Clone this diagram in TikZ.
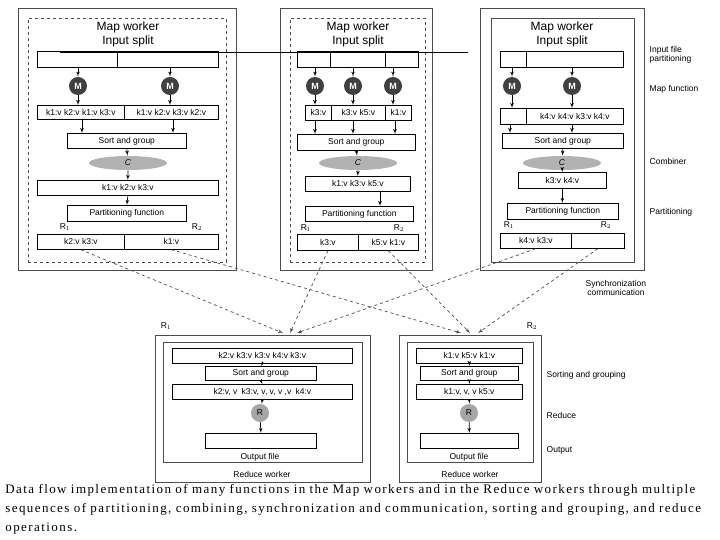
\documentclass[tikz,border=0pt]{standalone}
\usepackage{fontspec}
\setmainfont{Liberation Serif}
\setsansfont{Liberation Sans}
\usetikzlibrary{arrows,positioning,shapes.geometric}
\begin{document}
\begin{tikzpicture}[x=1pt,y=-1pt,>=latex',line width=0.7pt,font=\sffamily\fontsize{8.5}{9}\selectfont]
        \tikzset{box/.style={draw, rectangle, anchor=north west, inner sep=0pt, fill=white},
            worker/.style={draw=black!70, anchor=north west, inner sep=0pt},
            mnode/.style={circle, fill=black!75, text=white, font=\sffamily\bfseries\fontsize{9}{9}\selectfont, minimum size=18pt, inner sep=0pt},
            rnode/.style={circle, fill=black!35, minimum size=18pt, inner sep=0pt},
            comb/.style={ellipse, fill=black!30, minimum width=78pt, minimum height=14pt, inner sep=0pt, font=\sffamily\itshape\fontsize{8.5}{9}\selectfont},
            title/.style={font=\sffamily\fontsize{12}{14}\selectfont, align=center},
            side/.style={anchor=west, align=left},
            flow/.style={->, dashed, black!70},
        }
        \useasboundingbox (0,0) rectangle (720,540);

        % map worker 1
        \node [worker, minimum width=218pt, minimum height=262pt] (W1) at (18,8) {};
        \node [worker, dashed, minimum width=198pt, minimum height=244pt] (D1) at (28,18) {};
        \node [title] (T1) at (128,34) {Map worker\\Input split};
        \node [box, minimum width=80pt, minimum height=16pt] (S1a) at (37,51) {};
        \node [box, minimum width=101pt, minimum height=16pt] (S1b) at (117,51) {};
        \node [mnode] (M1a) at (78,86) {M};
        \node [mnode] (M1b) at (170,86) {M};
        \node [box, minimum width=87pt, minimum height=14pt] (K1a) at (37,105) {k1:v k2:v k1:v k3:v};
        \node [box, minimum width=94pt, minimum height=14pt] (K1b) at (124,105) {k1:v k2:v k3:v k2:v};
        \node [box, minimum width=119pt, minimum height=15pt] (G1) at (67,133) {Sort and group};
        \node [comb] (C1) at (128,163) {C};
        \node [box, minimum width=181pt, minimum height=15pt] (L1) at (37,180) {k1:v k2:v k3:v};
        \node [box, minimum width=119pt, minimum height=16pt] (P1) at (67,205) {Partitioning function};
        \node at (65,227) {R$_1$};
        \node at (197,227) {R$_2$};
        \node [box, minimum width=87pt, minimum height=15pt] (O1a) at (37,234) {k2:v k3:v};
        \node [box, minimum width=94pt, minimum height=15pt] (O1b) at (124,234) {k1:v};

        % map worker 2
        \node [worker, minimum width=152pt, minimum height=262pt] (W2) at (280,8) {};
        \node [worker, dashed, minimum width=135pt, minimum height=244pt] (D2) at (290,18) {};
        \node [title] (T2) at (358,34) {Map worker\\Input split};
        \node [box, minimum width=33pt, minimum height=16pt] (S2a) at (297,51) {};
        \node [box, minimum width=55pt, minimum height=16pt] (S2b) at (330,51) {};
        \node [box, minimum width=33pt, minimum height=16pt] (S2c) at (385,51) {};
        \node [mnode] (M2a) at (315,86) {M};
        \node [mnode] (M2b) at (353,86) {M};
        \node [mnode] (M2c) at (393,86) {M};
        \node [box, minimum width=26pt, minimum height=15pt] (K2a) at (305,105) {k3:v};
        \node [box, minimum width=54pt, minimum height=15pt] (K2b) at (331,105) {k3:v k5:v};
        \node [box, minimum width=26pt, minimum height=15pt] (K2c) at (385,105) {k1:v};
        \node [box, minimum width=118pt, minimum height=16pt] (G2) at (297,134) {Sort and group};
        \node [comb] (C2) at (358,163) {C};
        \node [box, minimum width=105pt, minimum height=15pt] (L2) at (305,176) {k1:v k3:v k5:v};
        \node [box, minimum width=108pt, minimum height=15pt] (P2) at (305,206) {Partitioning function};
        \node at (306,228) {R$_1$};
        \node at (399,228) {R$_2$};
        \node [box, minimum width=61pt, minimum height=16pt] (O2a) at (297,234) {k3:v};
        \node [box, minimum width=60pt, minimum height=16pt] (O2b) at (358,234) {k5:v k1:v};

        % map worker 3
        \node [worker, minimum width=164pt, minimum height=262pt] (W3) at (480,8) {};
        \node [worker, minimum width=143pt, minimum height=244pt] (D3) at (491,18) {};
        \node [title] (T3) at (562,34) {Map worker\\Input split};
        \node [box, minimum width=26pt, minimum height=16pt] (S3a) at (500,51) {};
        \node [box, minimum width=97pt, minimum height=16pt] (S3b) at (526,51) {};
        \node [mnode] (M3a) at (512,86) {M};
        \node [mnode] (M3b) at (572,86) {M};
        \node [box, minimum width=26pt, minimum height=16pt] (K3a) at (500,108) {};
        \node [box, minimum width=97pt, minimum height=16pt] (K3b) at (526,108) {k4:v k4:v k3:v k4:v};
        \node [box, minimum width=121pt, minimum height=15pt] (G3) at (502,133) {Sort and group};
        \node [comb] (C3) at (562,163) {C};
        \node [box, minimum width=88pt, minimum height=16pt] (L3) at (518,172) {k3:v k4:v};
        \node [box, minimum width=111pt, minimum height=16pt] (P3) at (507,203) {Partitioning function};
        \node at (509,225) {R$_1$};
        \node at (606,225) {R$_2$};
        \node [box, minimum width=71pt, minimum height=15pt] (O3a) at (500,233) {k4:v k3:v};
        \node [box, minimum width=53pt, minimum height=15pt] (O3b) at (571,233) {};

        % reduce workers
        \node [worker, minimum width=215pt, minimum height=147pt] (RW1) at (155,335) {};
        \node [worker, minimum width=199pt, minimum height=120pt] (RI1) at (163,342) {};
        \node at (262,474) {Reduce worker};
        \node at (166,326) {R$_1$};
        \node [box, minimum width=180pt, minimum height=15pt] (A1) at (172,348) {k2:v k3:v k3:v k4:v k3:v};
        \node [box, minimum width=111pt, minimum height=14pt] (B1) at (205,366) {Sort and group};
        \node [box, minimum width=180pt, minimum height=15pt] (E1) at (172,384) {k2:v, v\enspace k3:v, v, v, v ,v\enspace k4:v};
        \node [rnode] (R1) at (260,413) {R};
        \node [box, minimum width=111pt, minimum height=15pt] (F1) at (205,433) {};
        \node at (260,457) {Output file};

        \node [worker, minimum width=142pt, minimum height=147pt] (RW2) at (399,335) {};
        \node [worker, minimum width=126pt, minimum height=120pt] (RI2) at (407,342) {};
        \node at (470,474) {Reduce worker};
        \node at (532,326) {R$_2$};
        \node [box, minimum width=106pt, minimum height=15pt] (A2) at (416,348) {k1:v k5:v k1:v};
        \node [box, minimum width=98pt, minimum height=14pt] (B2) at (420,366) {Sort and group};
        \node [box, minimum width=106pt, minimum height=15pt] (E2) at (416,384) {k1:v, v, v k5:v};
        \node [rnode] (R2) at (469,413) {R};
        \node [box, minimum width=98pt, minimum height=15pt] (F2) at (420,433) {};
        \node at (469,457) {Output file};

        % side labels
        \node [side] at (646,55) {Input file\\partitioning};
        \node [side] at (646,89) {Map function};
        \node [side] at (646,161) {Combiner};
        \node [side] at (646,212) {Partitioning};
        \node [side, align=center] at (582,288) {Synchronization\\communication};
        \node [side] at (543,375) {Sorting and grouping};
        \node [side] at (543,415) {Reduce};
        \node [side] at (543,450) {Output};

        \coordinate (X1) at (283,333);
        \coordinate (X2) at (290,333);
        \coordinate (X3) at (297,333);
        \coordinate (Y1) at (461,333);
        \coordinate (Y2) at (470,333);
        \coordinate (Y3) at (478,333);
        \coordinate (HL) at (60,52);
        \coordinate (HR) at (468,52);

        \path[->]
            (M1a |- S1a.south) edge (M1a)
            (M1b |- S1a.south) edge (M1b)
            (M1a) edge (M1a |- K1a.north)
            (M1b) edge (M1b |- K1a.north)
            (82,119) edge (82,133)
            (173,119) edge (173,133)
            (G1.south) edge (C1)
            (C1) edge (L1.north)
            (L1.south) edge (P1.north)

            (M2a |- S2a.south) edge (M2a)
            (M2b |- S2a.south) edge (M2b)
            (M2c |- S2a.south) edge (M2c)
            (M2a) edge (M2a |- K2a.north)
            (M2b) edge (M2b |- K2a.north)
            (M2c) edge (M2c |- K2a.north)
            (315,120) edge (315,134)
            (353,120) edge (353,134)
            (395,120) edge (395,134)
            (G2.south) edge (C2)
            (C2) edge (L2.north)
            (380,191) edge (380,206)

            (M3a |- S3a.south) edge (M3a)
            (M3b |- S3a.south) edge (M3b)
            (M3a) edge (M3a |- K3a.north)
            (M3b) edge (M3b |- K3a.north)
            (510,124) edge (510,133)
            (572,124) edge (572,133)
            (G3.south) edge (C3)
            (C3) edge (L3.north)
            (L3.south) edge (L3.south |- P3.north)

            (A1.south) edge (B1.north)
            (B1.south) edge (E1.north)
            (E1.south) edge (R1)
            (R1) edge (F1.north)
            (A2.south) edge (B2.north)
            (B2.south) edge (E2.north)
            (E2.south) edge (R2)
            (R2) edge (F2.north)
                    ;
        \draw (HL) -- (HR);

        \path[flow]
            (O1a.south) edge (X1)
            (O1b.south) edge (Y1)
            (O2a.south) edge (X2)
            (O2b.south) edge (Y2)
            ([xshift=-36pt]O3a.south east) edge (X3)
            (O3b.south) edge (Y3)
                    ;

        \node [anchor=north west, text width=710pt, align=left, inner sep=0pt,
            font=\rmfamily\fontsize{13}{19.2}\selectfont\addfontfeatures{LetterSpace=11}] (cap) at (5,484)
            {Data flow implementation of many functions in the Map workers and in the Reduce workers through multiple\\sequences of partitioning, combining, synchronization and communication, sorting and grouping, and reduce\\operations.};
    \end{tikzpicture}
\end{document}
